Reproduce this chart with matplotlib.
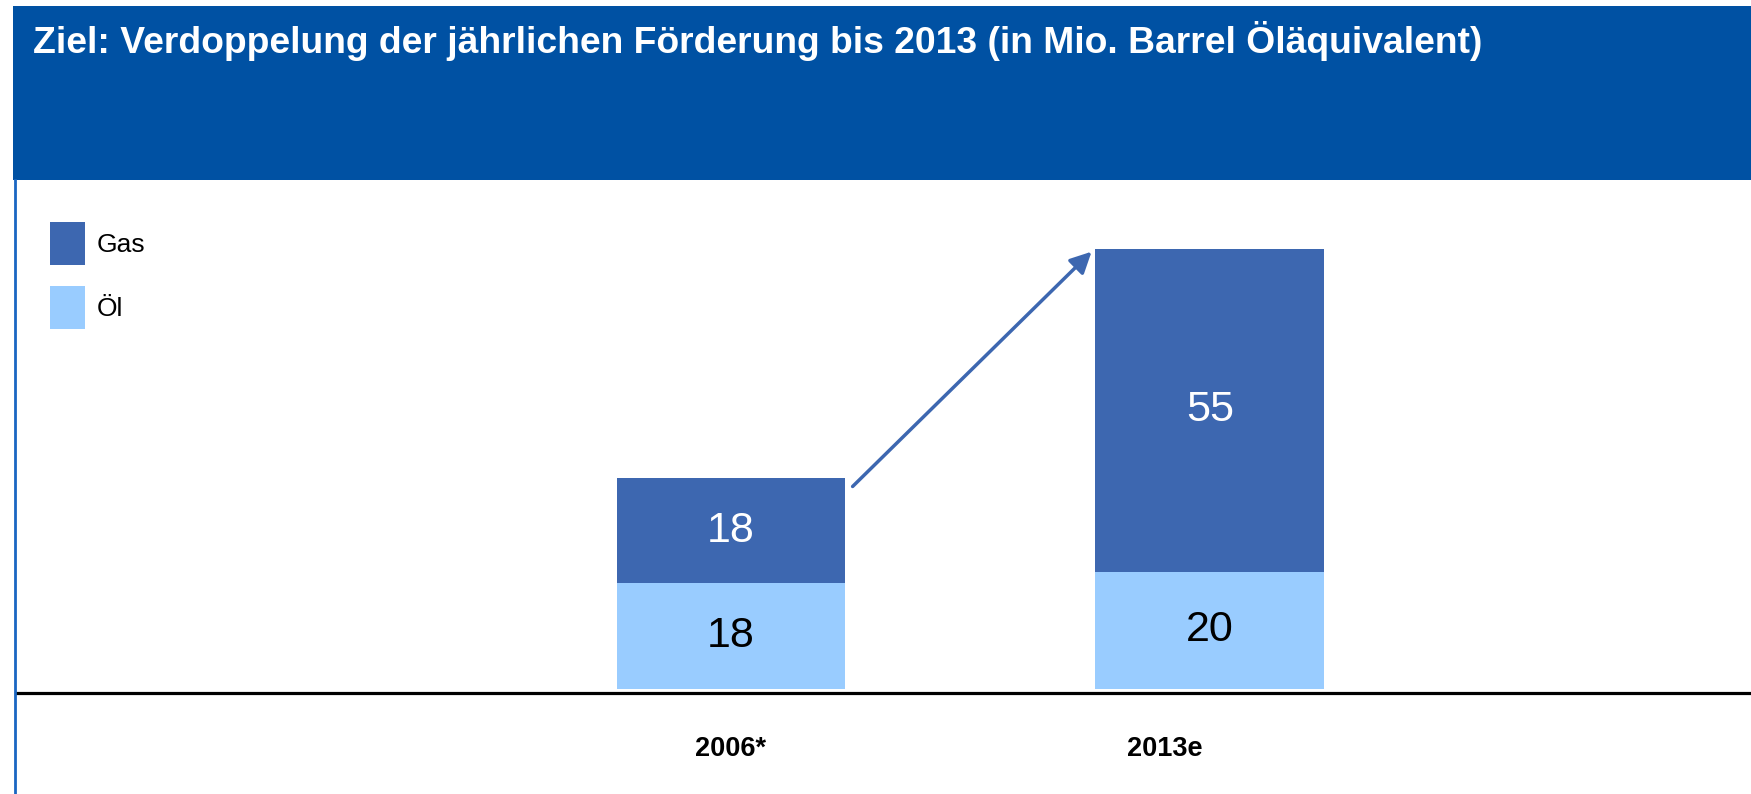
import numpy as np
import matplotlib
matplotlib.use("Agg")
import matplotlib.pyplot as plt
from matplotlib.patches import Rectangle
from matplotlib.lines import Line2D

narrow = ["Liberation Sans Narrow", "Liberation Sans", "DejaVu Sans"]
regular = ["Liberation Sans", "DejaVu Sans"]

## data
years = ["2006*", "2013e"]
oil = [18, 20]
gas = [18, 55]
tick_pos = [0, 0.906]   # the 2013e label sits a bit left of its bar

gas_color = "#3D67B0"
oil_color = "#99CCFF"
header_color = "#0051A3"

W, H = 1751, 794
fig = plt.figure(figsize=(W / 100, H / 100), dpi=100)

# header band
fig.patches.append(Rectangle((13 / W, 1 - 180 / H), 1 - 13 / W, 174 / H,
                             transform=fig.transFigure, facecolor=header_color,
                             edgecolor="none", zorder=0))
fig.lines.append(Line2D([15 / W, 15 / W], [0, 1 - 180 / H], transform=fig.transFigure,
                        color="#1A66C2", linewidth=2.0))
fig.text(33 / W, 1 - 53 / H,
         "Ziel: Verdoppelung der jährlichen Förderung bis 2013 (in Mio. Barrel Öläquivalent)",
         color="white", fontsize=26.8, fontweight="bold", family=regular,
         ha="left", va="baseline")

# axes: bottom at y=689px, top at header bottom
ax = fig.add_axes([16 / W, 1 - 689 / H, 1 - 16 / W, (689 - 180) / H])
ax.patch.set_alpha(0)

x = np.arange(len(years))
bar_width = 0.478
b_oil = ax.bar(x, oil, width=bar_width, color=oil_color, label="Öl")
b_gas = ax.bar(x, gas, width=bar_width, bottom=oil, color=gas_color, label="Gas")

for i in range(len(x)):
    ax.text(x[i], oil[i] / 2, str(oil[i]), ha="center", va="center",
            fontsize=31, color="black", family=narrow)
    ax.text(x[i], oil[i] + gas[i] / 2, str(gas[i]), ha="center", va="center",
            fontsize=31, color="white", family=narrow)

# growth arrow from first stack to top of second
ax.annotate("", xy=(x[1] - bar_width / 2 - 0.008, oil[1] + gas[1] - 0.5),
            xytext=(x[0] + bar_width / 2 + 0.015, oil[0] + gas[0] - 1.5),
            arrowprops=dict(arrowstyle="-|>", color=gas_color, lw=2.5,
                            mutation_scale=32, shrinkA=0, shrinkB=0))

ax.set_xlim(-1.493, 2.13)
ax.set_ylim(0, (689 - 180) / 5.87)

for s in ["top", "right", "left"]:
    ax.spines[s].set_visible(False)
ax.spines["bottom"].set_position(("outward", 3))
ax.spines["bottom"].set_linewidth(2.3)
ax.spines["bottom"].set_color("black")
ax.set_yticks([])
ax.set_xticks(tick_pos)
ax.set_xticklabels(years, fontsize=19.5, fontweight="bold", family=narrow)
ax.tick_params(axis="x", length=0, pad=31)

ax.legend(handles=[b_gas, b_oil], loc="upper left",
          bbox_to_anchor=(50 / W, 1 - 222 / H), bbox_transform=fig.transFigure,
          frameon=False, borderpad=0, borderaxespad=0,
          prop={"family": regular, "size": 19},
          handlelength=1.33, handleheight=2.134, handletextpad=0.45,
          labelspacing=0.8)

plt.savefig("out.png", dpi=100)
